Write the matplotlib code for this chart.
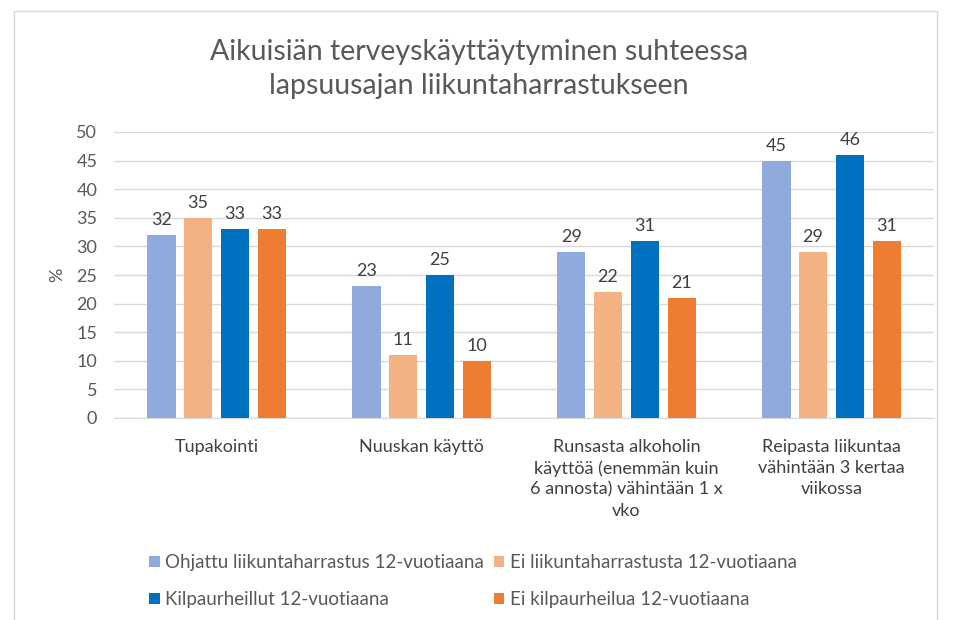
import matplotlib.pyplot as plt
import numpy as np
from matplotlib.patches import Rectangle

plt.rcParams['font.family'] = ['Lato', 'DejaVu Sans']

categories = ["Tupakointi", "Nuuskan käyttö",
              "Runsasta alkoholin\nkäyttöä (enemmän kuin\n6 annosta) vähintään 1 x\nvko",
              "Reipasta liikuntaa\nvähintään 3 kertaa\nviikossa"]
series_names = ["Ohjattu liikuntaharrastus 12-vuotiaana",
                "Ei liikuntaharrastusta 12-vuotiaana",
                "Kilpaurheillut 12-vuotiaana",
                "Ei kilpaurheilua 12-vuotiaana"]
ohjattu = [32, 23, 29, 45]
ei_harrastusta = [35, 11, 22, 29]
kilpa = [33, 25, 31, 46]
ei_kilpa = [33, 10, 21, 31]
colors = ["#8FAADC", "#F4B183", "#0070C0", "#ED7D31"]

fig = plt.figure(figsize=(9.58, 6.2), dpi=100)
fig.patches.append(Rectangle((14/958, -0.01), (937-14)/958, 1 - 11/620 + 0.01,
                             transform=fig.transFigure, fill=False,
                             edgecolor="#D9D9D9", linewidth=1))
ax = fig.add_axes([114/958, 1-418/620, (934-114)/958, (418-132)/620])

x = np.arange(len(categories))
w = 0.14
step = 0.18
data = [ohjattu, ei_harrastusta, kilpa, ei_kilpa]
handles = []
for i, (vals, c, name) in enumerate(zip(data, colors, series_names)):
    bars = ax.bar(x + (i - 1.5) * step, vals, w, color=c, label=name, zorder=3)
    ax.bar_label(bars, padding=5, fontsize=13, color="#404040")
    handles.append(bars)

ax.set_xlim(-0.5, 3.5)
ax.set_ylim(0, 50)
ax.set_yticks(range(0, 51, 5))
ax.yaxis.grid(True, color="#D9D9D9", linewidth=1)
ax.set_axisbelow(True)
for s in ["top", "right", "left"]:
    ax.spines[s].set_visible(False)
ax.spines["bottom"].set_color("#D9D9D9")
ax.tick_params(axis="both", length=0, labelsize=13, labelcolor="#595959")
ax.tick_params(axis="y", pad=12)
ax.set_xticks(x)
ax.set_xticklabels(categories, fontsize=13, color="#404040", va="top", linespacing=1.38)
ax.tick_params(axis="x", pad=15)

fig.text(57/958, 1-275/620, "%", rotation=90, ha="center", va="center",
         fontsize=13, color="#595959")

fig.text(0.5, 1-69/620, "Aikuisiän terveyskäyttäytyminen suhteessa\nlapsuusajan liikuntaharrastukseen",
         ha="center", va="center", fontsize=20.5, color="#595959", linespacing=1.42)

order = [0, 2, 1, 3]
fig.legend([handles[k] for k in order], [series_names[k] for k in order],
           loc="center", bbox_to_anchor=(473/958, 1-581/620), ncol=2, frameon=False,
           fontsize=13.5, labelcolor="#595959", handlelength=0.55, handleheight=0.55,
           handletextpad=0.3, columnspacing=0.5, labelspacing=1.05,
           borderpad=0)

plt.savefig("out.png")
